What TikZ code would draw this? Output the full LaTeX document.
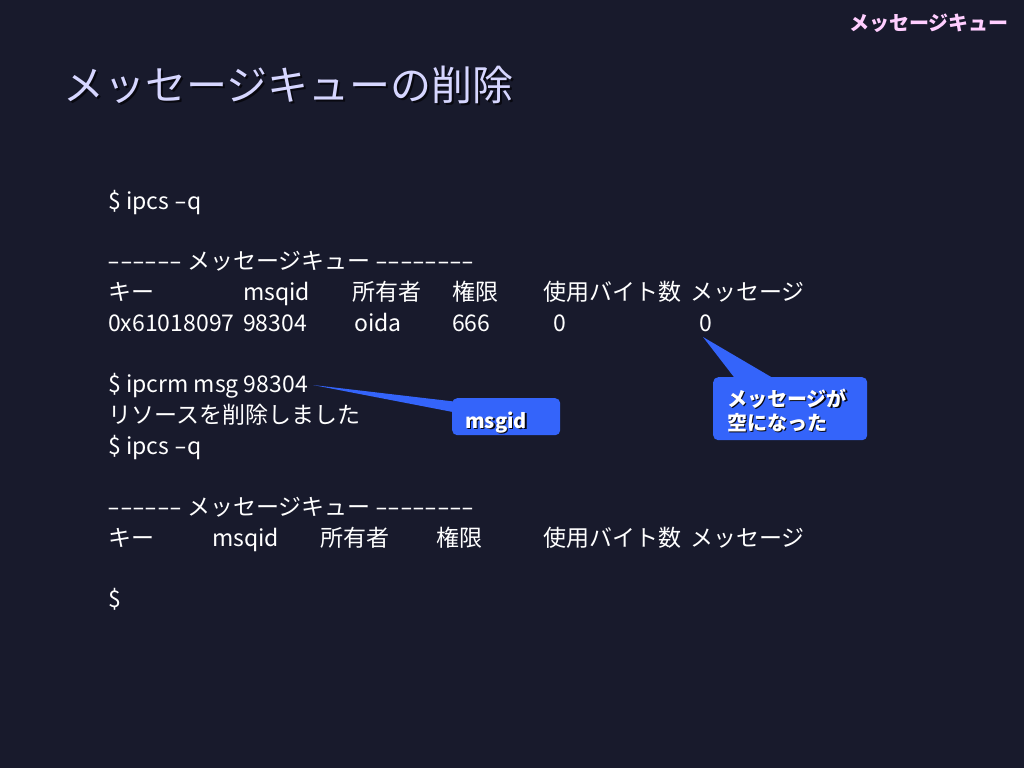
\documentclass[tikz,border=0pt]{standalone}
\usepackage{fontspec}
\newfontfamily\jpfont{Noto Sans CJK JP}
\usetikzlibrary{calc}

\definecolor{bgnavy}{RGB}{24,26,44}
\definecolor{titlelav}{RGB}{214,214,255}
\definecolor{cornerpink}{RGB}{255,206,255}
\definecolor{calloutblue}{RGB}{52,100,250}
\definecolor{shadowgray}{RGB}{8,8,16}

% long hyphen of the terminal font
\newcommand{\longhy}{\scalebox{1.6}[1]{-}}
\newcommand{\hy}{\makebox[12.3pt]{\longhy}}

\tikzset{
	term/.style={anchor=base west, inner sep=0pt, text=white, font=\jpfont\fontsize{23}{23}\selectfont},
	callout/.style={fill=calloutblue, rounded corners=5pt, inner sep=0pt, anchor=north west},
	calltext/.style={anchor=base west, inner sep=0pt, text=white, font=\jpfont\bfseries\fontsize{20}{20}\selectfont},
	callshadow/.style={calltext, text=shadowgray}
}

\begin{document}
\begin{tikzpicture}[x=1pt, y=-1pt]
	% Background
	\fill[bgnavy] (0,0) rectangle (1024,768);
	\useasboundingbox (0,0) rectangle (1024,768);

	% Corner label
	\node[anchor=base east, inner sep=0pt, text=cornerpink, font=\jpfont\bfseries\fontsize{20}{20}\selectfont] (corner) at (1009,31) {メッセージキュー};

	% Title
	\node[anchor=base west, inner sep=0pt, text=shadowgray, font=\jpfont\fontsize{41}{41}\selectfont] (titleshadow) at (65.5,102.5) {メッセージキューの削除};
	\node[anchor=base west, inner sep=0pt, text=titlelav, font=\jpfont\fontsize{41}{41}\selectfont] (title) at (63,100) {メッセージキューの削除};

	% First listing
	\node[term] (cmda) at (108,209) {\$ ipcs \longhy q};
	\node[term] (heada) at (108,269) {\hy\hy\hy\hy\hy\hy\ メッセージキュー \hy\hy\hy\hy\hy\hy\hy\hy};
	%header
	\node[term] (keya) at (108,300) {キー};
	\node[term] (msqida) at (243,300) {msqid};
	\node[term] (ownera) at (352,300) {所有者};
	\node[term] (perma) at (452,300) {権限};
	\node[term] (bytesa) at (543,300) {使用バイト数};
	\node[term] (msgsa) at (690,300) {メッセージ};
	%data
	\node[term] (keyval) at (108,331) {0x61018097};
	\node[term] (msqidval) at (243,331) {98304};
	\node[term] (ownerval) at (354,331) {oida};
	\node[term] (permval) at (452,331) {666};
	\node[term] (bytesval) at (553,331) {0};
	\node[term] (msgsval) at (699,331) {0};

	% Remove
	\node[term] (rmcmd) at (108,392) {\$ ipcrm msg 98304};
	\node[term] (rmdone) at (108,423) {リソースを削除しました};
	\node[term] (cmdb) at (108,454) {\$ ipcs \longhy q};

	% Second listing
	\node[term] (headb) at (108,515) {\hy\hy\hy\hy\hy\hy\ メッセージキュー \hy\hy\hy\hy\hy\hy\hy\hy};
	\node[term] (keyb) at (108,546) {キー};
	\node[term] (msqidb) at (212,546) {msqid};
	\node[term] (ownerb) at (320,546) {所有者};
	\node[term] (permb) at (436,546) {権限};
	\node[term] (bytesb) at (543,546) {使用バイト数};
	\node[term] (msgsb) at (690,546) {メッセージ};
	\node[term] (prompt) at (108,607) {\$};

	% Callout: msgid
	\coordinate (msgidtip) at (313,385);
	\node[callout, minimum width=108pt, minimum height=37pt] (msgidbox) at (452,398) {};
	\fill[calloutblue] (msgidtip) -- ($(msgidbox.north west)+(6,4)$) -- ($(msgidbox.north west)+(6,15)$) -- cycle;
	\node[callshadow] (msgidshadow) at (466.5,429.5) {msgid};
	\node[calltext] (msgidtext) at (465,428) {msgid};

	% Callout: empty queue
	\coordinate (emptytip) at (703,337);
	\node[callout, minimum width=154pt, minimum height=63pt] (emptybox) at (713,377) {};
	\fill[calloutblue] (emptytip) -- ($(emptybox.north west)+(24,4)$) -- ($(emptybox.north west)+(65,4)$) -- cycle;
	\node[callshadow] (emptyshadowa) at (728.5,407.5) {メッセージが};
	\node[calltext] (emptytexta) at (727,406) {メッセージが};
	\node[callshadow] (emptyshadowb) at (728.5,431.5) {空になった};
	\node[calltext] (emptytextb) at (727,430) {空になった};

\end{tikzpicture}
\end{document}
